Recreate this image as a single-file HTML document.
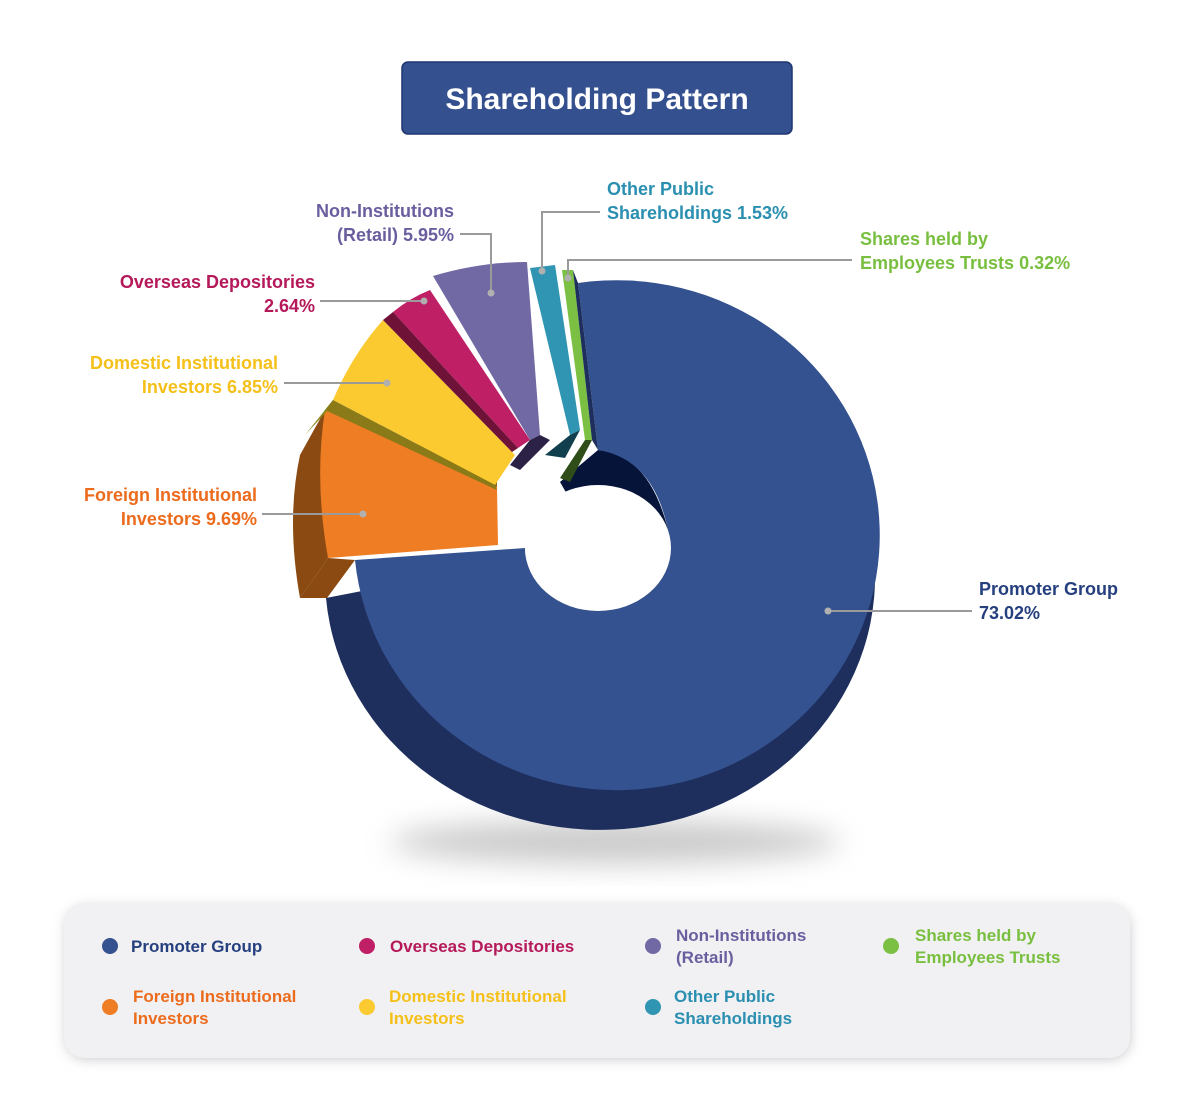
<!DOCTYPE html>
<html><head><meta charset="utf-8"><style>
body{margin:0;background:#fff;}
svg text{font-family:"Liberation Sans",sans-serif;font-weight:bold;}
</style></head><body>
<svg width="1194" height="1115" viewBox="0 0 1194 1115" xmlns="http://www.w3.org/2000/svg">
<defs>
<filter id="bl" x="-50%" y="-50%" width="200%" height="200%"><feGaussianBlur stdDeviation="14"/></filter>
<filter id="sh" x="-10%" y="-20%" width="120%" height="150%"><feGaussianBlur stdDeviation="6"/></filter>
</defs>
<rect x="402" y="62" width="390" height="72" rx="6" fill="#34508f" stroke="#1f3570" stroke-width="1.5"/>
<text x="597" y="109" text-anchor="middle" font-size="30" fill="#fff">Shareholding Pattern</text>

<ellipse cx="615" cy="842" rx="225" ry="22" fill="#999" opacity="0.5" filter="url(#bl)"/>

<!-- promoter extrusion -->
<path d="M326,598 A275 253 0 1 0 868,520 L600,545 Z" fill="#1e2f5e"/>
<!-- hole dark wall -->
<path d="M560,482 L598,450 Q655,455 672,548 L598,548 Z" fill="#06143a"/>
<!-- promoter top -->
<path d="M578,283 A263 255 0 1 1 355,560 L525,548 A73 63 0 0 0 671,548 Q660,460 598,450 Z" fill="#34528f"/>
<ellipse cx="598" cy="548" rx="73" ry="63" fill="#fff"/>

<!-- orange -->
<path d="M300,455 L325,410 L328,558 L300,598 Q286,520 300,455 Z" fill="#8a4a12"/>
<path d="M300,598 L328,558 L355,560 L327,598 Z" fill="#8a4a12"/>
<path d="M325,410 L497,487 L498,545 L328,558 Q314,480 325,410 Z" fill="#ee7d23"/>
<path d="M325,410 L497,487 L497,480 L330,405 Z" fill="#8a6a12"/>
<!-- yellow -->
<path d="M305,435 L333,400 L330,408 Z" fill="#8a8a20"/>
<path d="M333,400 Q352,355 383,320 L515,455 L495,485 Z" fill="#fbc930"/>
<path d="M333,400 L495,485 L497,490 L325,410 Z" fill="#8a7a18"/>
<!-- magenta -->
<path d="M393,312 Q410,298 430,290 L530,440 L518,448 Z" fill="#bf1f65"/>
<path d="M383,320 L393,312 L518,448 L512,452 Z" fill="#6e1238"/>
<!-- purple -->
<path d="M433,276 Q480,262 527,262 L540,435 L530,440 Z" fill="#7169a4"/>
<path d="M510,465 L530,440 L540,435 L550,440 L520,470 Z" fill="#2b2246"/>
<!-- teal -->
<path d="M530,268 L555,265 L580,430 L570,435 Z" fill="#2f95b2"/>
<path d="M545,455 L570,435 L580,430 L565,458 Z" fill="#123f4d"/>
<!-- green -->
<path d="M562,270 L573,270 L592,440 L585,440 Z" fill="#7bc043"/>
<path d="M560,478 L585,440 L592,440 L570,482 Z" fill="#2f4d18"/>
<path d="M573,270 L578,283 L598,450 L592,440 Z" fill="#1e2f5e"/>

<g stroke="#9a9a9a" stroke-width="2" fill="none">
<polyline points="828,611 972,611"/>
<polyline points="363,514 262,514"/>
<polyline points="387,383 284,383"/>
<polyline points="424,301 320,301"/>
<polyline points="491,293 491,234 460,234"/>
<polyline points="542,271 542,212 600,212"/>
<polyline points="568,278 568,260 852,260"/>
</g>
<g fill="#b0b0b0">
<circle cx="828" cy="611" r="3.5"/><circle cx="363" cy="514" r="3.5"/><circle cx="387" cy="383" r="3.5"/>
<circle cx="424" cy="301" r="3.5"/><circle cx="491" cy="293" r="3.5"/><circle cx="542" cy="271" r="3.5"/><circle cx="568" cy="278" r="3.5"/>
</g>

<g font-size="18">
<text x="979" y="595" fill="#26407f">Promoter Group</text>
<text x="979" y="619" fill="#26407f">73.02%</text>
<text x="257" y="501" text-anchor="end" fill="#ec6b1c">Foreign Institutional</text>
<text x="257" y="525" text-anchor="end" fill="#ec6b1c">Investors 9.69%</text>
<text x="278" y="369" text-anchor="end" fill="#f5c01a">Domestic Institutional</text>
<text x="278" y="393" text-anchor="end" fill="#f5c01a">Investors 6.85%</text>
<text x="315" y="288" text-anchor="end" fill="#b5195a">Overseas Depositories</text>
<text x="315" y="312" text-anchor="end" fill="#b5195a">2.64%</text>
<text x="454" y="217" text-anchor="end" fill="#6b5e9f">Non-Institutions</text>
<text x="454" y="241" text-anchor="end" fill="#6b5e9f">(Retail) 5.95%</text>
<text x="607" y="195" fill="#2a8fb0">Other Public</text>
<text x="607" y="219" fill="#2a8fb0">Shareholdings 1.53%</text>
<text x="860" y="245" fill="#79bf3f">Shares held by</text>
<text x="860" y="269" fill="#79bf3f">Employees Trusts 0.32%</text>
</g>

<rect x="66" y="907" width="1064" height="152" rx="20" fill="#c8c8cc" filter="url(#sh)"/>
<rect x="64" y="903" width="1066" height="155" rx="20" fill="#f1f1f3"/>
<g font-size="17">
<circle cx="110" cy="946" r="8" fill="#34528f"/><text x="131" y="952" fill="#26407f">Promoter Group</text>
<circle cx="367" cy="946" r="8" fill="#bf1f65"/><text x="390" y="952" fill="#b5195a">Overseas Depositories</text>
<circle cx="653" cy="946" r="8" fill="#7169a4"/><text x="676" y="941" fill="#6b5e9f">Non-Institutions</text><text x="676" y="963" fill="#6b5e9f">(Retail)</text>
<circle cx="891" cy="946" r="8" fill="#7bc043"/><text x="915" y="941" fill="#79bf3f">Shares held by</text><text x="915" y="963" fill="#79bf3f">Employees Trusts</text>
<circle cx="110" cy="1007" r="8" fill="#ee7d23"/><text x="133" y="1002" fill="#ec6b1c">Foreign Institutional</text><text x="133" y="1024" fill="#ec6b1c">Investors</text>
<circle cx="367" cy="1007" r="8" fill="#fbc930"/><text x="389" y="1002" fill="#f5c01a">Domestic Institutional</text><text x="389" y="1024" fill="#f5c01a">Investors</text>
<circle cx="653" cy="1007" r="8" fill="#2f95b2"/><text x="674" y="1002" fill="#2a8fb0">Other Public</text><text x="674" y="1024" fill="#2a8fb0">Shareholdings</text>
</g>
</svg>
</body></html>
